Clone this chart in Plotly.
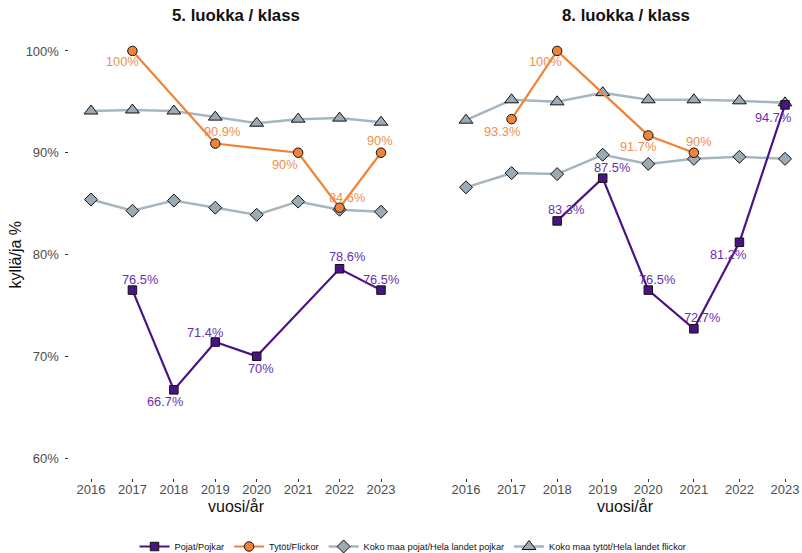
import plotly.graph_objects as go

# ---------------- data ----------------
years = [2016, 2017, 2018, 2019, 2020, 2021, 2022, 2023]

# 5. luokka / klass
g5_boys_years = [2017, 2018, 2019, 2020, 2022, 2023]
g5_boys = [76.5, 66.7, 71.4, 70.0, 78.6, 76.5]
g5_girls_years = [2017, 2019, 2021, 2022, 2023]
g5_girls = [100.0, 90.9, 90.0, 84.6, 90.0]
g5_nat_boys = [85.4, 84.3, 85.3, 84.6, 83.9, 85.2, 84.4, 84.2]
g5_nat_girls = [94.1, 94.2, 94.1, 93.5, 92.9, 93.3, 93.4, 93.0]

# 8. luokka / klass
g8_boys_years = [2018, 2019, 2020, 2021, 2022, 2023]
g8_boys = [83.3, 87.5, 76.5, 72.7, 81.2, 94.7]
g8_girls_years = [2017, 2018, 2020, 2021]
g8_girls = [93.3, 100.0, 91.7, 90.0]
g8_nat_boys = [86.6, 88.0, 87.9, 89.8, 88.9, 89.4, 89.6, 89.4]
g8_nat_girls = [93.2, 95.2, 95.0, 95.9, 95.2, 95.2, 95.1, 94.9]

panel_titles = ["5. luokka / klass", "8. luokka / klass"]
series_names = ["Pojat/Pojkar", "Tytöt/Flickor",
                "Koko maa pojat/Hela landet pojkar",
                "Koko maa tytöt/Hela landet flickor"]
y_ticks = [60, 70, 80, 90, 100]
y_ticktext = ["60%", "70%", "80%", "90%", "100%"]
x_title = "vuosi/år"
y_title = "kyllä/ja %"

# label offsets (pixels) per labelled point: (dx, dy)
g5_boys_off = [(8, 11), (-9, -12), (-10, 10), (4, -12), (7, 12), (0, 11)]
g5_girls_off = [(-10, -11), (7, 12), (-13, -12), (7, 10), (-1, 12)]
g8_boys_off = [(9, 11), (9, 11), (9, 11), (8, 11), (-11, -12), (-12, -13)]
g8_girls_off = [(-10, -12), (-12, -11), (-10, -11), (5, 11)]

# ---------------- styles ----------------
BOY = "#4a1486"
BOY_TXT = "#6a2fae"
GIRL = "#f0833a"
GIRL_TXT = "#f28e4c"
GREY_LINE = "#a6b6c0"
GREY_FILL = "#9aabb6"
FONT = "Liberation Sans, Arial, sans-serif"

W, H = 802, 553
fig = go.Figure()


def add_panel(k, by, bv, gy, gv, nb, ng):
    xa = "x" if k == 0 else "x2"
    ya = "y" if k == 0 else "y2"
    show = k == 0
    fig.add_trace(go.Scatter(x=years, y=nb, mode="lines+markers", name=series_names[2],
                             line=dict(color=GREY_LINE, width=2.5),
                             marker=dict(symbol="diamond", size=10, color=GREY_FILL,
                                         line=dict(color="#111", width=1)),
                             xaxis=xa, yaxis=ya, showlegend=show, legendrank=3))
    fig.add_trace(go.Scatter(x=years, y=ng, mode="lines+markers", name=series_names[3],
                             line=dict(color=GREY_LINE, width=2.5),
                             marker=dict(symbol="triangle-up", size=12, color=GREY_FILL,
                                         line=dict(color="#111", width=1)),
                             xaxis=xa, yaxis=ya, showlegend=show, legendrank=4))
    fig.add_trace(go.Scatter(x=gy, y=gv, mode="lines+markers", name=series_names[1],
                             line=dict(color=GIRL, width=2.2),
                             marker=dict(symbol="circle", size=9.5, color=GIRL,
                                         line=dict(color="#111", width=1)),
                             xaxis=xa, yaxis=ya, showlegend=show, legendrank=2))
    fig.add_trace(go.Scatter(x=by, y=bv, mode="lines+markers", name=series_names[0],
                             line=dict(color=BOY, width=2.2),
                             marker=dict(symbol="square", size=8.5, color=BOY,
                                         line=dict(color="#111", width=1)),
                             xaxis=xa, yaxis=ya, showlegend=show, legendrank=1))


add_panel(0, g5_boys_years, g5_boys, g5_girls_years, g5_girls, g5_nat_boys, g5_nat_girls)
add_panel(1, g8_boys_years, g8_boys, g8_girls_years, g8_girls, g8_nat_boys, g8_nat_girls)


def fmt(v):
    s = ("%.1f" % v).rstrip("0").rstrip(".")
    return s + "%"


def add_labels(xref, yref, xs, vs, offs, color):
    for x, v, (dx, dy) in zip(xs, vs, offs):
        fig.add_annotation(x=x, y=v, xref=xref, yref=yref, text=fmt(v),
                           showarrow=False, xshift=dx, yshift=dy,
                           font=dict(family=FONT, size=12.8, color=color))


add_labels("x", "y", g5_girls_years, g5_girls, g5_girls_off, GIRL_TXT)
add_labels("x", "y", g5_boys_years, g5_boys, g5_boys_off, BOY_TXT)
add_labels("x2", "y2", g8_girls_years, g8_girls, g8_girls_off, GIRL_TXT)
add_labels("x2", "y2", g8_boys_years, g8_boys, g8_boys_off, BOY_TXT)

# panel geometry (pixels)
L1, R1 = 68.5, 395.5
L2, R2 = 450.0, 801.0
TOP, BOT = 30.6, 478.4
# year -> pixel mapping
x1_2016, x1_2023 = 91.0, 381.0
x2_2016, x2_2023 = 466.0, 785.0


def xrange(L, R, a, b):
    ppy = (b - a) / 7.0
    return [2016 - (a - L) / ppy, 2023 + (R - b) / ppy]


centers = [(236.0), (625.5)]
for t, cx in zip(panel_titles, centers):
    fig.add_annotation(x=cx / W, y=1 - 16 / H, xref="paper", yref="paper", text="<b>%s</b>" % t,
                       showarrow=False, xanchor="center", yanchor="middle",
                       font=dict(family=FONT, size=16.8, color="#111"))
    fig.add_annotation(x=cx / W, y=1 - 506 / H, xref="paper", yref="paper", text=x_title,
                       showarrow=False, xanchor="center", yanchor="middle",
                       font=dict(family=FONT, size=16, color="#111"))

fig.add_annotation(x=15 / W, y=1 - 254.5 / H, xref="paper", yref="paper", text=y_title,
                   textangle=-90, showarrow=False, xanchor="center", yanchor="middle",
                   font=dict(family=FONT, size=16, color="#111"))

ydom = [(H - BOT) / H, (H - TOP) / H]
xcommon = dict(tickvals=years, ticks="outside", ticklen=3,
               tickcolor="#333", tickwidth=1, automargin=False, ticklabelstandoff=-4,
               tickfont=dict(family=FONT, size=13, color="#4d4d4d"),
               showgrid=False, zeroline=False, showline=False)
ycommon = dict(range=[58, 102], tickvals=y_ticks, showgrid=False, zeroline=False,
               showline=False, domain=ydom, automargin=False)

fig.update_layout(
    width=W, height=H,
    margin=dict(l=0, r=0, t=0, b=0, autoexpand=False),
    paper_bgcolor="white", plot_bgcolor="white",
    font=dict(family=FONT),
    xaxis=dict(domain=[L1 / W, R1 / W], anchor="y",
               range=xrange(L1, R1, x1_2016, x1_2023), **xcommon),
    xaxis2=dict(domain=[L2 / W, R2 / W], anchor="y2",
                range=xrange(L2, R2, x2_2016, x2_2023), **xcommon),
    yaxis=dict(anchor="x", ticktext=y_ticktext, ticks="outside", ticklen=3,
               tickcolor="#333", tickwidth=1, ticklabelstandoff=3,
               tickfont=dict(family=FONT, size=13, color="#4d4d4d"),
               **ycommon),
    yaxis2=dict(anchor="x2", showticklabels=False, ticks="", **ycommon),
    legend=dict(orientation="h", x=0.515, xanchor="center", y=-8 / H, yanchor="bottom",
                font=dict(family=FONT, size=9.2, color="#111"),
                itemwidth=30, traceorder="normal"),
    showlegend=True,
)

fig.write_html("out.html", config={"displayModeBar": False},
               post_script="document.body.style.margin='0';document.body.style.overflow='hidden';")
